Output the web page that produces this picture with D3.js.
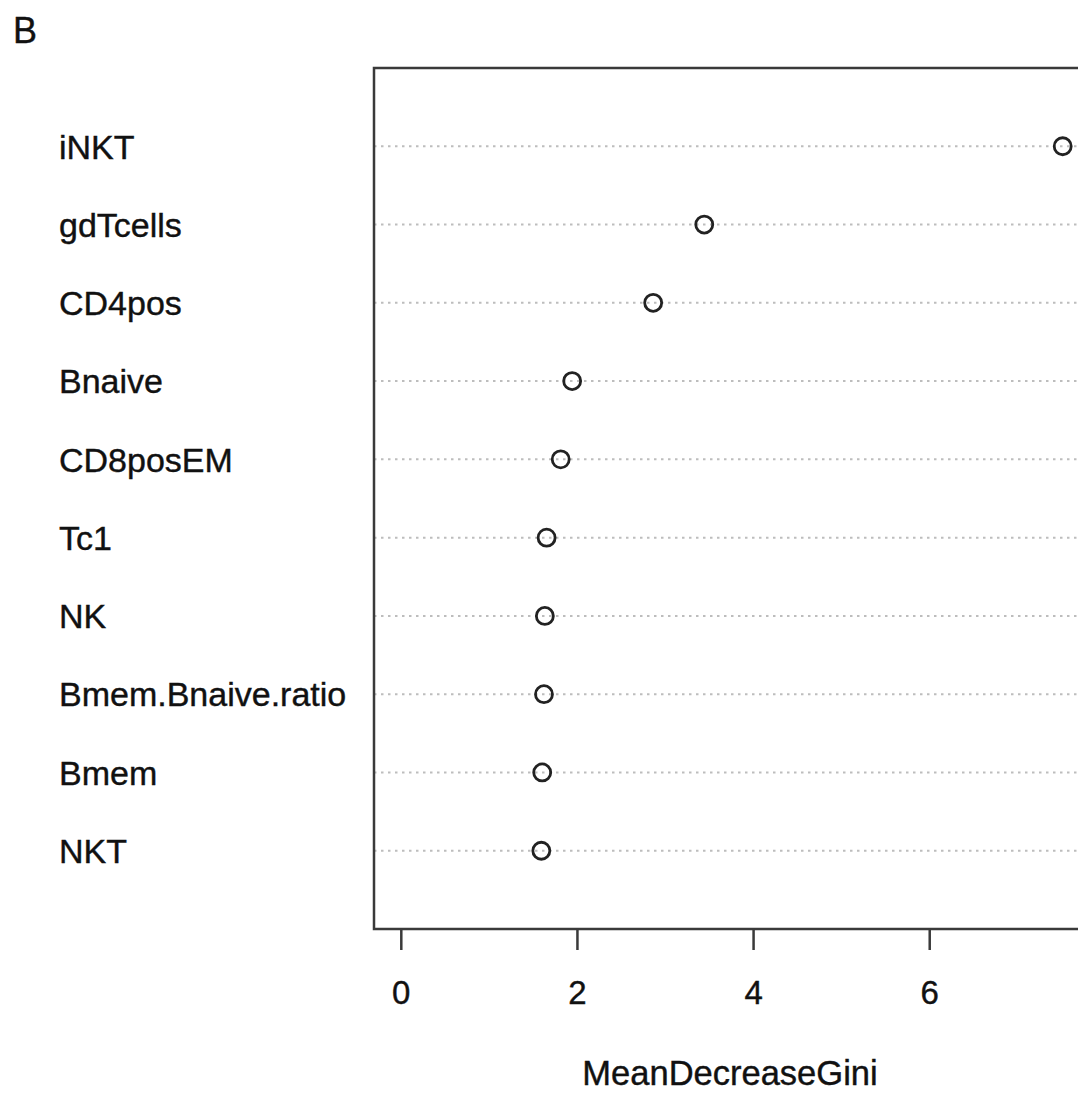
<!doctype html>
<html lang="en">
<head>
  <meta charset="utf-8">
  <title>MeanDecreaseGini - D3</title>
  <style>
    html, body { margin: 0; padding: 0; background: #fff; }
    svg { display: block; }
    text { font-family: "Liberation Sans", Arial, sans-serif; fill: #111; stroke: #111; stroke-width: 0.4px; }
  </style>
</head>
<body>
  <svg width="1078" height="1094"></svg>

  <script src="https://cdn.jsdelivr.net/npm/d3@7"></script>
  <script>
    // variable importance, top first
    var categories = ['iNKT', 'gdTcells', 'CD4pos', 'Bnaive', 'CD8posEM', 'Tc1', 'NK', 'Bmem.Bnaive.ratio', 'Bmem', 'NKT'];
    var values = [7.51, 3.44, 2.86, 1.94, 1.81, 1.65, 1.63, 1.62, 1.60, 1.59];
    var xTicks = [0, 2, 4, 6];

    var svg = d3.select('svg');
    // note: "top" is a reserved window global, so use box* names
    var boxL = 374, boxT = 68, boxB = 929, boxR = 1090;

    var x = d3.scaleLinear().domain([-0.31, 7.82]).range([boxL, boxR]);
    // dotchart style: rows 1..n with one unit padding top and bottom
    var y = d3.scaleLinear().domain([0, categories.length + 1]).range([boxB, boxT]);
    var rowY = function (i) { return y(categories.length - i) };

    // panel label
    svg.append('text').text('B')
      .attr('x', 13).attr('y', 43)
      .attr('font-size', '36px');

    // dotted guide lines
    svg.append('g').selectAll('line').data(categories).enter()
      .append('line')
      .attr('x1', boxL).attr('x2', boxR)
      .attr('y1', (d, i) => rowY(i)).attr('y2', (d, i) => rowY(i))
      .attr('stroke', '#bdbdbd')
      .attr('stroke-width', 2)
      .attr('stroke-dasharray', '2.5,4.5');

    // row labels
    svg.append('g').selectAll('text').data(categories).enter()
      .append('text')
      .text(d => d)
      .attr('x', 59)
      .attr('y', (d, i) => rowY(i))
      .attr('dy', '0.36em')
      .attr('font-size', '34px');

    // points
    svg.append('g').selectAll('circle').data(values).enter()
      .append('circle')
      .attr('cx', v => x(v))
      .attr('cy', (v, i) => rowY(i))
      .attr('r', 8.5)
      .attr('fill', 'none')
      .attr('stroke', '#222')
      .attr('stroke-width', 2.8);

    // plot box
    svg.append('rect')
      .attr('x', boxL).attr('y', boxT)
      .attr('width', boxR - boxL).attr('height', boxB - boxT)
      .attr('fill', 'none')
      .attr('stroke', '#3a3a3a')
      .attr('stroke-width', 2.5);

    // x axis, R style: ticks below, detached labels
    var axis = svg.append('g').attr('transform', 'translate(0,' + boxB + ')');
    axis.selectAll('line').data(xTicks).enter()
      .append('line')
      .attr('x1', v => x(v)).attr('x2', v => x(v))
      .attr('y1', 0).attr('y2', 21)
      .attr('stroke', '#3a3a3a')
      .attr('stroke-width', 2.5);
    axis.selectAll('text').data(xTicks).enter()
      .append('text')
      .text(v => v)
      .attr('x', v => x(v))
      .attr('y', 75)
      .attr('text-anchor', 'middle')
      .attr('font-size', '33px');

    svg.append('text').text('MeanDecreaseGini')
      .attr('x', 730).attr('y', 1085)
      .attr('text-anchor', 'middle')
      .attr('font-size', '34.5px');
  </script>
</body>
</html>
